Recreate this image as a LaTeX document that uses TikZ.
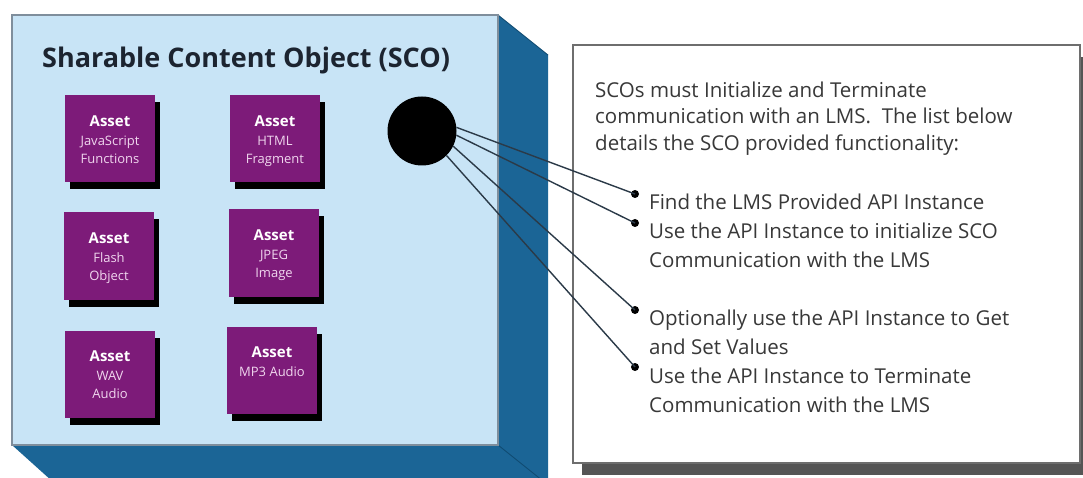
\documentclass[tikz,border=0pt]{standalone}
\usepackage{fontspec}
\setmainfont{Open Sans}
\usetikzlibrary{shadows}
\definecolor{facebg}{HTML}{C8E4F6}
\definecolor{sideblue}{HTML}{1B6596}
\definecolor{edgeblue}{HTML}{0F4A70}
\definecolor{facebord}{HTML}{7F8E9C}
\definecolor{assetpurple}{HTML}{7D1B79}
\definecolor{assettext}{HTML}{F0D6EE}
\definecolor{titlecol}{HTML}{1C2430}
\definecolor{linecol}{HTML}{2B3A48}
\definecolor{txtcol}{HTML}{383838}
\definecolor{boxbord}{HTML}{6E6E6E}
\definecolor{boxshadow}{HTML}{555555}
\newcommand\assetbx[5]{%
  \node[asset] (#1) at (#2,#3) {};
  \node[assethead] at ([yshift=-31pt]#1.north) {Asset};
  \node[assetsub] at ([yshift=-50pt]#1.north) {#4};
  \node[assetsub] at ([yshift=-68pt]#1.north) {#5};
}
\begin{document}
\begin{tikzpicture}[x=1pt,y=-1pt,
  asset/.style={fill=assetpurple, minimum width=90pt, minimum height=87pt, inner sep=0pt,
    drop shadow={shadow xshift=5pt, shadow yshift=-7pt, fill=black, opacity=1}},
  assethead/.style={anchor=base, inner sep=0pt, text=white, font=\fontsize{15}{18}\selectfont\bfseries},
  assetsub/.style={anchor=base, inner sep=0pt, text=assettext, font=\fontsize{13}{15}\selectfont},
  intro/.style={anchor=base west, inner sep=0pt, text=txtcol, font=\fontsize{20.5}{24}\selectfont},
  item/.style={anchor=base west, inner sep=0pt, text=txtcol, font=\fontsize{20.5}{24}\selectfont},
  dot/.style={circle, fill=black, inner sep=0pt, minimum size=8pt},
  conn/.style={draw=linecol, line width=1.4pt}
]
\clip (0,0) rectangle (1083,478);
\fill[white] (0,0) rectangle (1083,478);
% 3D box side
\fill[sideblue] (498,15) -- (548,55) -- (548,490) -- (62,490) -- (12,445) -- (498,445) -- cycle;
\draw[edgeblue, line width=0.8pt] (498,445) -- (548,485);
\draw[edgeblue, line width=0.8pt] (498,15) -- (548,55);
% front face
\node[fill=facebg, draw=facebord, line width=1.2pt, minimum width=486pt, minimum height=430pt, inner sep=0pt] (sco) at (255,230) {};
\node[anchor=base west, inner sep=0pt, text=titlecol, font=\fontsize{27}{30}\selectfont\bfseries] (title) at (42,68) {Sharable Content Object (SCO)};
% assets
\assetbx{a1}{110}{139}{JavaScript}{Functions}
\assetbx{a2}{275}{139}{HTML}{Fragment}
\assetbx{a3}{109}{256}{Flash}{Object}
\assetbx{a4}{274}{253}{JPEG}{Image}
\assetbx{a5}{110}{374}{WAV}{Audio}
\node[asset] (a6) at (272,370) {};
\node[assethead] at ([yshift=-31pt]a6.north) {Asset};
\node[assetsub] at ([yshift=-50pt]a6.north) {MP3 Audio};
% description box
\node[fill=white, draw=boxbord, line width=1.8pt, minimum width=507pt, minimum height=418pt, inner sep=0pt,
  drop shadow={shadow xshift=9pt, shadow yshift=-12pt, fill=boxshadow, opacity=1}] (desc) at (826.5,254) {};
\node[intro] (t1) at (595,98) {SCOs must Initialize and Terminate};
\node[intro] (t2) at (595,124) {communication with an LMS.\ \ The list below};
\node[intro] (t3) at (595,151) {details the SCO provided functionality:};
\node[item] (i1) at (649,210) {Find the LMS Provided API Instance};
\node[item] (i2) at (649,238) {Use the API Instance to initialize SCO};
\node[item] (i2b) at (649,267) {Communication with the LMS};
\node[item] (i3) at (649,325) {Optionally use the API Instance to Get};
\node[item] (i3b) at (649,354) {and Set Values};
\node[item] (i4) at (649,383) {Use the API Instance to Terminate};
\node[item] (i4b) at (649,412) {Communication with the LMS};
% API circle, bullets, connectors
\node[circle, fill=black, inner sep=0pt, minimum size=69pt] (api) at (422,131) {};
\node[dot] (b1) at (635,194) {};
\node[dot] (b2) at (635,223) {};
\node[dot] (b3) at (635,310) {};
\node[dot] (b4) at (635,367) {};
\draw[conn] (api.6) -- (b1.center);
\draw[conn] (api.-7) -- (b2.center);
\draw[conn] (api.-26) -- (b3.center);
\draw[conn] (api.-45) -- (b4.center);
\end{tikzpicture}
\end{document}
